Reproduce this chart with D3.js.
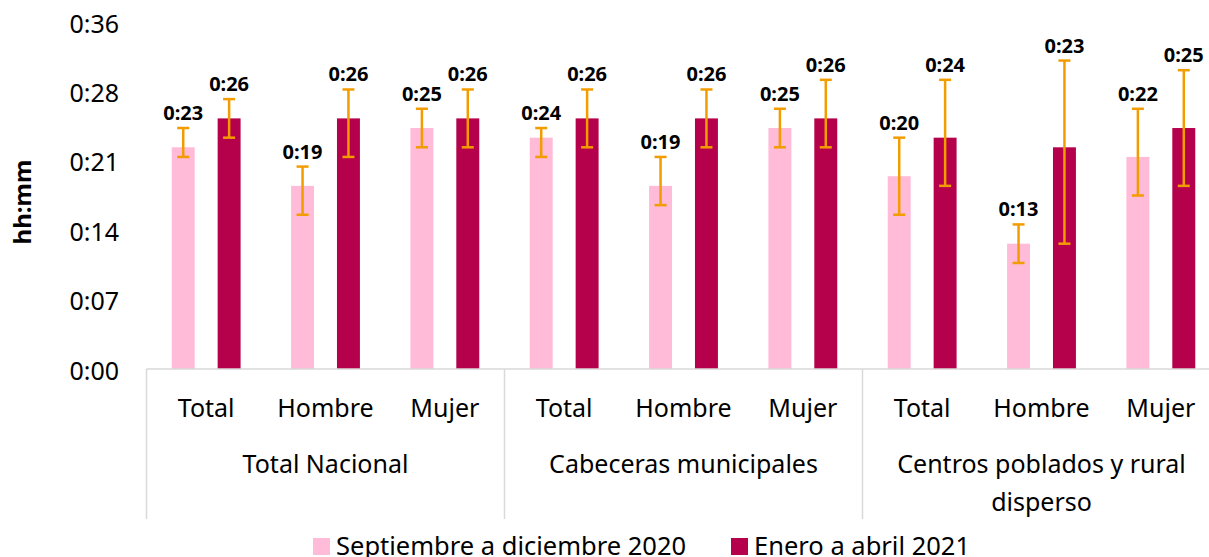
<!DOCTYPE html>
<html>
<head>
<meta charset="utf-8">
<script src="https://cdn.jsdelivr.net/npm/d3@7"></script>
<style>
  body { margin: 0; background: #fff; }
  text { font-family: "Noto Sans", "Open Sans", sans-serif; fill: #000; }
</style>
</head>
<body>
<div id="chart"></div>
<script>
// data (minutes)
var groups = ["Total Nacional", "Cabeceras municipales", "Centros poblados y rural disperso"];
var subgroups = ["Total", "Hombre", "Mujer"];
var seriesNames = ["Septiembre a diciembre 2020", "Enero a abril 2021"];
var sep2020 = [23, 19, 25, 24, 19, 25, 20, 13, 22];
var ene2021 = [26, 26, 26, 26, 26, 26, 24, 23, 25];
var sepLow = [22, 16, 23, 22, 17, 23, 16, 11, 18];
var sepHigh = [25, 21, 27, 25, 22, 27, 24, 15, 27];
var eneLow = [24, 22, 23, 23, 23, 23, 19, 13, 19];
var eneHigh = [28, 29, 29, 29, 29, 30, 30, 32, 31];
var yTicks = [0, 7.2, 14.4, 21.6, 28.8, 36];
var yTickLabels = ["0:00", "0:07", "0:14", "0:21", "0:28", "0:36"];

var colors = ["#ffbbd8", "#b5004b"];
var errColor = "#f39c00";

//svg container
var svgWidth = 1209;
var svgHeight = 557;

var margin = {top: 22, left: 146.5, bottom: 188};
var plotRight = 1220.5;   // plot runs past the right edge of the picture
var plotBottom = svgHeight - margin.bottom;

var svg = d3.select('#chart').append('svg')
    .attr('width', svgWidth)
    .attr('height', svgHeight);

var idx = d3.range(groups.length * subgroups.length);

var xScale = d3.scaleBand()
    .domain(idx)
    .range([margin.left, plotRight])
    .padding(0);

var xInner = d3.scaleBand()
    .domain([0, 1])
    .range([0, xScale.bandwidth()])
    .paddingInner(0.5)
    .paddingOuter(0.55);

var yScale = d3.scaleLinear()
    .domain([0, 36])
    .range([plotBottom, margin.top]);

// y axis labels
var yAxis = d3.axisLeft(yScale)
    .tickValues(yTicks)
    .tickFormat(function(d, i) { return yTickLabels[i]; })
    .tickSize(0)
    .tickPadding(0);

var yAxisG = svg.append('g')
    .attr('transform', 'translate(119,0)')
    .call(yAxis);
yAxisG.select('.domain').remove();
yAxisG.selectAll('text')
    .attr('font-family', '"Noto Sans", sans-serif')
    .attr('font-size', '25px')
    .attr('fill', '#000')
    .attr('dy', '0.4em');

svg.append('text')
    .attr('transform', 'translate(31,202) rotate(-90)')
    .attr('text-anchor', 'middle')
    .attr('font-size', '24px')
    .attr('font-weight', 'bold')
    .text('hh:mm');

// bars
var series = [sep2020, ene2021];
var lows = [sepLow, eneLow];
var highs = [sepHigh, eneHigh];

series.forEach(function(vals, s) {
    var g = svg.append('g');
    g.selectAll('rect')
        .data(vals)
        .enter()
        .append('rect')
        .attr('x', function(d, i) { return xScale(i) + xInner(s); })
        .attr('y', function(d) { return yScale(d); })
        .attr('width', xInner.bandwidth())
        .attr('height', function(d) { return plotBottom - yScale(d); })
        .attr('fill', colors[s]);
});

// error bars
series.forEach(function(vals, s) {
    var g = svg.append('g')
        .attr('stroke', errColor)
        .attr('stroke-width', 2.5);
    vals.forEach(function(v, i) {
        var cx = xScale(i) + xInner(s) + xInner.bandwidth() / 2;
        var y1 = yScale(lows[s][i]);
        var y2 = yScale(highs[s][i]);
        g.append('line').attr('x1', cx).attr('x2', cx).attr('y1', y1).attr('y2', y2);
        g.append('line').attr('x1', cx - 6).attr('x2', cx + 6).attr('y1', y1).attr('y2', y1);
        g.append('line').attr('x1', cx - 6).attr('x2', cx + 6).attr('y1', y2).attr('y2', y2);
    });
});

// value labels
function fmt(m) { return '0:' + d3.format('02d')(m); }

series.forEach(function(vals, s) {
    svg.append('g').selectAll('text')
        .data(vals)
        .enter()
        .append('text')
        .attr('x', function(d, i) { return xScale(i) + xInner(s) + xInner.bandwidth() / 2; })
        .attr('y', function(d, i) { return yScale(highs[s][i]) - 8; })
        .attr('text-anchor', 'middle')
        .attr('font-size', '20px')
        .attr('font-weight', 'bold')
        .text(fmt);
});

// category axis
var axisColor = '#d9d9d9';
svg.append('line')
    .attr('x1', margin.left).attr('x2', plotRight)
    .attr('y1', plotBottom).attr('y2', plotBottom)
    .attr('stroke', axisColor).attr('stroke-width', 1.5);

var nSub = subgroups.length;
d3.range(groups.length + 1).forEach(function(k) {
    var x = k < groups.length ? xScale(k * nSub) : plotRight;
    svg.append('line')
        .attr('x1', x).attr('x2', x)
        .attr('y1', plotBottom).attr('y2', 519)
        .attr('stroke', axisColor).attr('stroke-width', 1.5);
});

svg.append('g').selectAll('text')
    .data(idx)
    .enter()
    .append('text')
    .attr('x', function(i) { return xScale(i) + xScale.bandwidth() / 2; })
    .attr('y', 417)
    .attr('text-anchor', 'middle')
    .attr('font-size', '25px')
    .text(function(i) { return subgroups[i % nSub]; });

// group labels, wrapped to group width
groups.forEach(function(name, k) {
    var cx = xScale(k * nSub) + xScale.bandwidth() * nSub / 2;
    var t = svg.append('text')
        .attr('x', cx)
        .attr('y', 473)
        .attr('text-anchor', 'middle')
        .attr('font-size', '25px');
    var words = name.split(' ');
    var line = [];
    var tspan = t.append('tspan').attr('x', cx).attr('dy', 0);
    words.forEach(function(w) {
        line.push(w);
        tspan.text(line.join(' '));
        if (tspan.node().getComputedTextLength() > 310 && line.length > 1) {
            line.pop();
            tspan.text(line.join(' '));
            line = [w];
            tspan = t.append('tspan').attr('x', cx).attr('dy', 38).text(w);
        }
    });
});

// legend
var legendX = [313, 731];
seriesNames.forEach(function(name, s) {
    var lg = svg.append('g').attr('transform', 'translate(' + legendX[s] + ',538)');
    lg.append('rect')
        .attr('width', 17).attr('height', 17)
        .attr('fill', colors[s]);
    lg.append('text')
        .attr('x', 23)
        .attr('y', 17)
        .attr('font-size', '25.5px')
        .text(name);
});
</script>
</body>
</html>
